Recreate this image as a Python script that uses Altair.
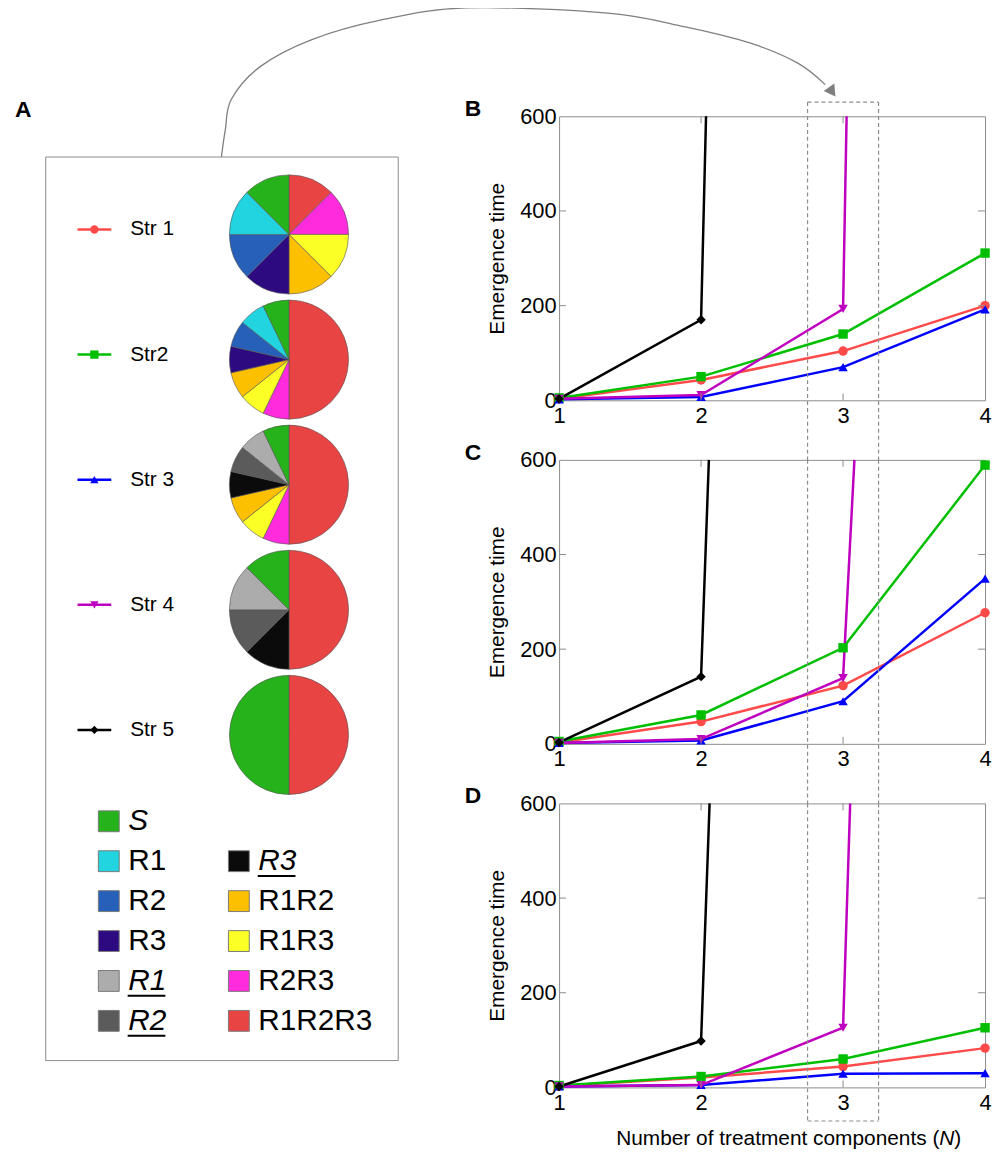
import altair as alt
import pandas as pd

FONT = "Liberation Sans"
GRAY = "#8c8c8c"

# ---------------- strains ----------------
STRAINS = ["Str 1", "Str2", "Str 3", "Str 4", "Str 5"]
STRAIN_COLORS = ["#ff4a4a", "#00bf00", "#0000ff", "#bf00bf", "#000000"]
STRAIN_SHAPES = ["circle", "square", "triangle-up", "triangle-down", "diamond"]

# ---------------- panel data (x = N, y = emergence time) ----------------
N_VALUES = [1, 2, 3, 4]
Y_TOP = 600

B_STR1 = [3, 43, 104, 200]
B_STR2 = [5, 50, 140, 311]
B_STR3 = [2, 7, 70, 192]
B_STR4 = [3, 11, 193, None]
B_STR5 = [3, 170, None, None]
B_ESCAPE_N = [None, None, None, 3.025, 2.035]

C_STR1 = [3, 47, 123, 277]
C_STR2 = [5, 61, 203, 589]
C_STR3 = [2, 7, 90, 349]
C_STR4 = [2, 10, 139, None]
C_STR5 = [3, 142, None, None]
C_ESCAPE_N = [None, None, None, 3.08, 2.055]

D_STR1 = [3, 21, 44, 83]
D_STR2 = [4, 23, 60, 126]
D_STR3 = [2, 5, 29, 30]
D_STR4 = [2, 5, 126, None]
D_STR5 = [2, 98, None, None]
D_ESCAPE_N = [None, None, None, 3.05, 2.06]

X_TICKS = [1, 2, 3, 4]
Y_TICKS = [0, 200, 400, 600]
INNER_X_TICKS = [2, 3]
INNER_Y_TICKS = [200, 400]

# ---------------- sub-populations (pie slices, clockwise from 12 o'clock) ----------------
SUBPOPS = ["R1R2R3", "R2R3", "R1R3", "R1R2", "R3", "R2", "R1", "uR3", "uR2", "uR1", "S"]
SUBPOP_COLORS = ["#e84444", "#ff2bdd", "#fbff25", "#fdc000", "#2e0a80", "#2660b8",
                 "#21d4e0", "#0b0b0b", "#5b5b5b", "#acacac", "#25b21a"]
PIE_STR1 = [1, 1, 1, 1, 1, 1, 1, 0, 0, 0, 1]
PIE_STR2 = [7, 1, 1, 1, 1, 1, 1, 0, 0, 0, 1]
PIE_STR3 = [7, 1, 1, 1, 0, 0, 0, 1, 1, 1, 1]
PIE_STR4 = [4, 0, 0, 0, 0, 0, 0, 1, 1, 1, 1]
PIE_STR5 = [1, 0, 0, 0, 0, 0, 0, 0, 0, 0, 1]

LEGEND_COL1 = ["S", "R1", "R2", "R3", "uR1", "uR2"]
LEGEND_COL2 = ["uR3", "R1R2", "R1R3", "R2R3", "R1R2R3"]
ITALIC = ["S", "uR1", "uR2", "uR3"]
UNDERLINED = ["uR1", "uR2", "uR3"]

# ---------------- annotation: dashed box around N=3 and curved arrow ----------------
BOX_N = [2.75, 3.25]
BOX_TOP = 630
BOX_BOTTOM = -71
GAP_BOTTOM = -126
ARROW_N = [-1.378, -1.350, -1.308, -1.105, -0.741, -0.259, 0.343, 1.343, 1.888, 2.343, 2.678, 2.874]
ARROW_T = [514, 573, 636, 705, 762, 803, 829, 818, 789, 755, 713, 667]
ARROW_HEAD = (2.916, 655)

# ---------------- sizes ----------------
PW, PH = 429, 286      # right panels
LW = 355               # left column width
BOX_Y0, BOX_Y1 = 41, 951   # left box, relative to the top of panel B

strain_color = alt.Scale(domain=STRAINS, range=STRAIN_COLORS)
strain_shape = alt.Scale(domain=STRAINS, range=STRAIN_SHAPES)
subpop_color = alt.Scale(domain=SUBPOPS, range=SUBPOP_COLORS)


def panel(letter, series, escapes, arrow=False, bottom=False):
    rows = []
    for s, vals, esc in zip(STRAINS, series, escapes):
        for n, v in zip(N_VALUES, vals):
            if v is not None:
                rows.append({"strain": s, "N": n, "time": v, "obs": True})
        if esc is not None:
            rows.append({"strain": s, "N": esc, "time": Y_TOP, "obs": False})
    df = pd.DataFrame(rows)

    x = alt.X("N:Q", title=None,
              scale=alt.Scale(domain=[1, 4], nice=False, zero=False),
              axis=alt.Axis(values=X_TICKS, format="d", labelFontSize=22, labelPadding=5,
                            labelFlush=False, domain=False, ticks=False, tickSize=0,
                            grid=False, labelColor="black"))
    y = alt.Y("time:Q", title="Emergence time",
              scale=alt.Scale(domain=[0, 600], nice=False),
              axis=alt.Axis(values=Y_TICKS, format="d", labelFontSize=22, labelPadding=3,
                            domain=False, ticks=False, tickSize=0, grid=False,
                            labelColor="black", titleFontSize=21, titleFontWeight="normal",
                            titleColor="black", titlePadding=12))

    lines = alt.Chart(df).mark_line(strokeWidth=2.5).encode(
        x=x, y=y,
        color=alt.Color("strain:N", scale=strain_color, legend=None),
        detail="strain:N")
    pts = alt.Chart(df).transform_filter("datum.obs").mark_point(
        filled=True, opacity=1, size=90).encode(
        x=x, y=y,
        color=alt.Color("strain:N", scale=strain_color, legend=None),
        shape=alt.Shape("strain:N", scale=strain_shape, legend=None))

    xt = pd.DataFrame({"N": INNER_X_TICKS})
    yt = pd.DataFrame({"time": INNER_Y_TICKS})
    tick_style = dict(color=GRAY, strokeWidth=1)
    t1 = alt.Chart(xt).mark_rule(**tick_style).encode(x=x, y=alt.value(PH), y2=alt.value(PH - 7))
    t2 = alt.Chart(xt).mark_rule(**tick_style).encode(x=x, y=alt.value(0), y2=alt.value(7))
    t3 = alt.Chart(yt).mark_rule(**tick_style).encode(y=y, x=alt.value(0), x2=alt.value(7))
    t4 = alt.Chart(yt).mark_rule(**tick_style).encode(y=y, x=alt.value(PW - 7), x2=alt.value(PW))

    segs = []
    top = BOX_TOP if arrow else Y_TOP
    bot = BOX_BOTTOM if bottom else GAP_BOTTOM
    for bn in BOX_N:
        segs.append({"N": bn, "N2": bn, "time": top, "time2": bot})
    if arrow:
        segs.append({"N": BOX_N[0], "N2": BOX_N[1], "time": BOX_TOP, "time2": BOX_TOP})
    if bottom:
        segs.append({"N": BOX_N[0], "N2": BOX_N[1], "time": BOX_BOTTOM, "time2": BOX_BOTTOM})
    box = alt.Chart(pd.DataFrame(segs)).mark_rule(
        color=GRAY, strokeWidth=1.2, strokeDash=[4, 3], clip=False).encode(
        x=x, x2=alt.X2("N2"), y=y, y2=alt.Y2("time2"))

    lab = alt.Chart(pd.DataFrame({"t": [letter]})).mark_text(
        align="left", baseline="alphabetic", fontSize=23, fontWeight="bold", color="black").encode(
        text="t:N", x=alt.value(-95), y=alt.value(0))

    layers = [lines, pts, t1, t2, t3, t4, box, lab]

    if arrow:
        adf = pd.DataFrame({"N": ARROW_N, "time": ARROW_T})
        arr = alt.Chart(adf).mark_line(
            interpolate="cardinal", color="#7f7f7f", strokeWidth=1.3, clip=False).encode(x=x, y=y)
        head = alt.Chart(pd.DataFrame({"N": [ARROW_HEAD[0]], "time": [ARROW_HEAD[1]]})).mark_point(
            shape="triangle", filled=True, opacity=1, color="#7f7f7f", size=170, angle=145,
            clip=False).encode(x=x, y=y)
        layers += [arr, head]

    if bottom:
        tdf = pd.DataFrame({"a": ["Number of treatment components ("], "b": ["N"], "c": [")"]})
        base = alt.Chart(tdf)
        ta = base.mark_text(align="right", baseline="alphabetic", fontSize=21, color="black").encode(
            text="a:N", x=alt.value(383), y=alt.value(PH + 58))
        tb = base.mark_text(align="left", baseline="alphabetic", fontSize=21, fontStyle="italic",
                            color="black").encode(text="b:N", x=alt.value(383), y=alt.value(PH + 58))
        tc = base.mark_text(align="left", baseline="alphabetic", fontSize=21, color="black").encode(
            text="c:N", x=alt.value(398), y=alt.value(PH + 58))
        layers += [ta, tb, tc]

    return alt.layer(*layers).properties(width=PW, height=PH)


pB = panel("B", [B_STR1, B_STR2, B_STR3, B_STR4, B_STR5], B_ESCAPE_N, arrow=True)
pC = panel("C", [C_STR1, C_STR2, C_STR3, C_STR4, C_STR5], C_ESCAPE_N)
pD = panel("D", [D_STR1, D_STR2, D_STR3, D_STR4, D_STR5], D_ESCAPE_N, bottom=True)

# ---------------- left panel (drawn from the top cell, overflowing downwards) ----------------
pie_rows = []
for s, vals in zip(STRAINS, [PIE_STR1, PIE_STR2, PIE_STR3, PIE_STR4, PIE_STR5]):
    for i, (k, v) in enumerate(zip(SUBPOPS, vals)):
        if v > 0:
            pie_rows.append({"strain": s, "key": k, "order": i, "weight": v})
pie_df = pd.DataFrame(pie_rows)

strain_y = alt.Y("strain:N", scale=alt.Scale(type="point", domain=STRAINS,
                                             range=[BOX_Y0 + 78, BOX_Y0 + 582], padding=0),
                 axis=None)

frame = alt.Chart(pd.DataFrame({"a": [0]})).mark_rect(
    fill="transparent", stroke=GRAY, strokeWidth=1).encode(
    x=alt.value(0), x2=alt.value(LW), y=alt.value(BOX_Y0), y2=alt.value(BOX_Y1))

letterA = alt.Chart(pd.DataFrame({"t": ["A"]})).mark_text(
    align="left", baseline="alphabetic", fontSize=23, fontWeight="bold", color="black").encode(
    text="t:N", x=alt.value(-31), y=alt.value(1))

pies = alt.Chart(pie_df).transform_stack(
    stack="weight", groupby=["strain"], as_=["t0", "t1"], offset="normalize",
    sort=[alt.SortField("order", order="ascending")]
).mark_arc(radius=60, stroke="#555555", strokeWidth=0.6).encode(
    x=alt.value(245), y=strain_y,
    theta=alt.Theta("t0:Q", scale=alt.Scale(domain=[0, 1], range=[0, 6.283185307179586])),
    theta2="t1:Q",
    color=alt.Color("key:N", scale=subpop_color, legend=None))

sdf = pd.DataFrame({"strain": STRAINS})
leg_lines = alt.Chart(sdf).mark_rule(strokeWidth=2.5, yOffset=-5).encode(
    x=alt.value(32), x2=alt.value(66), y=strain_y,
    color=alt.Color("strain:N", scale=strain_color, legend=None))
leg_pts = alt.Chart(sdf).mark_point(filled=True, opacity=1, size=70, yOffset=-5).encode(
    x=alt.value(49), y=strain_y,
    color=alt.Color("strain:N", scale=strain_color, legend=None),
    shape=alt.Shape("strain:N", scale=strain_shape, legend=None))
leg_txt = alt.Chart(sdf).mark_text(align="left", baseline="middle", fontSize=21, yOffset=-5,
                                   color="black").encode(
    x=alt.value(85), y=strain_y, text="strain:N")

leg_rows = []
for r, k in enumerate(LEGEND_COL1):
    leg_rows.append({"key": k, "col": 0, "row": r})
for r, k in enumerate(LEGEND_COL2, start=1):
    leg_rows.append({"key": k, "col": 1, "row": r})
leg_df = pd.DataFrame(leg_rows)
leg_df["label"] = leg_df["key"].str.lstrip("u")
leg_df["italic"] = leg_df["key"].isin(ITALIC)
leg_df["under"] = leg_df["key"].isin(UNDERLINED)

lx = alt.X("col:Q", scale=alt.Scale(domain=[0, 1], range=[63.5, 194.5]), axis=None)
ly = alt.Y("row:Q", scale=alt.Scale(domain=[0, 5], range=[BOX_Y0 + 669, BOX_Y0 + 870]), axis=None)

sq = alt.Chart(leg_df).mark_square(size=441, opacity=1, stroke="#7a7a7a", strokeWidth=1).encode(
    x=lx, y=ly, color=alt.Color("key:N", scale=subpop_color, legend=None))
txt_reg = alt.Chart(leg_df).transform_filter("!datum.italic").mark_text(
    align="left", baseline="middle", fontSize=30, dx=19.5, color="black").encode(
    x=lx, y=ly, text="label:N")
txt_it = alt.Chart(leg_df).transform_filter("datum.italic").mark_text(
    align="left", baseline="middle", fontSize=30, dx=19.5, fontStyle="italic", color="black").encode(
    x=lx, y=ly, text="label:N")
under = alt.Chart(leg_df).transform_filter("datum.under").mark_rule(
    xOffset=19, x2Offset=57, yOffset=15, strokeWidth=2, color="black").encode(
    x=lx, x2=alt.X2("col"), y=ly)

left_top = alt.layer(frame, letterA, pies, leg_lines, leg_pts, leg_txt, sq, txt_reg, txt_it, under
                     ).resolve_scale(x="independent", y="independent", color="independent",
                                     shape="independent"
                     ).properties(width=LW, height=PH, view=alt.ViewBackground(stroke="transparent"))


def blank():
    return alt.layer(
        alt.Chart(pd.DataFrame({"a": [0]})).mark_point(opacity=0).encode(
            x=alt.value(0), y=alt.value(0))
    ).properties(width=LW, height=PH, view=alt.ViewBackground(stroke="transparent"))


chart = alt.concat(left_top, pB, blank(), pC, blank(), pD, columns=2,
                   spacing={"row": 60, "column": 162}, bounds="flush").resolve_scale(
    color="independent", shape="independent"
).properties(
    padding={"left": 6, "top": -8, "right": 0, "bottom": 0}
).configure(font=FONT).configure_view(stroke=GRAY, strokeWidth=1).configure_axis(
    labelFont=FONT, titleFont=FONT)

chart.save("out.html", embed_options={"renderer": "svg", "actions": False})
